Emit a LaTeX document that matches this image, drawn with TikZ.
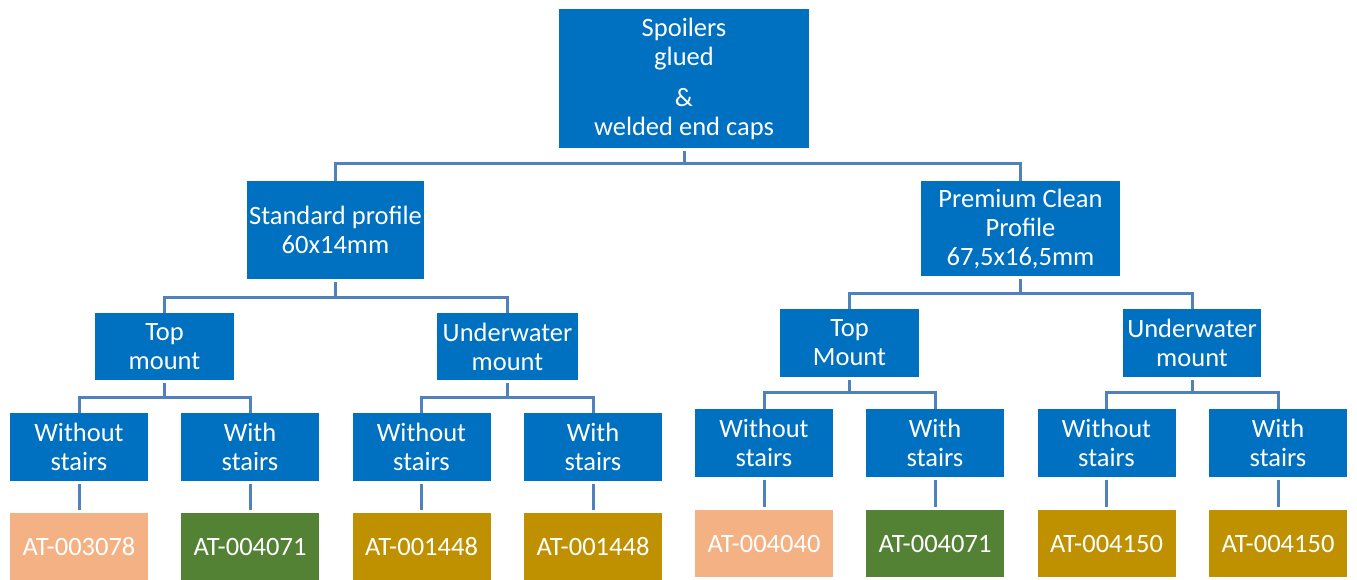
\documentclass[tikz,border=0pt]{standalone}
\usepackage{fontspec}
\setmainfont{Carlito}
\usepackage{tikz}
\usetikzlibrary{positioning}

\definecolor{boxblue}{HTML}{0070C0}
\definecolor{linkblue}{HTML}{4F81BD}
\definecolor{salmon}{HTML}{F4B183}
\definecolor{leafgreen}{HTML}{548235}
\definecolor{gold}{HTML}{BF9000}

\begin{document}
\begin{tikzpicture}[x=1pt,y=-1pt,
		blk/.style={fill=boxblue, text=white, align=center, inner sep=0pt,
			font=\fontsize{26.5}{29}\selectfont},
		prod/.style={blk, minimum width=138pt, minimum height=67pt},
		link/.style={draw=linkblue, line width=3pt}]
		\useasboundingbox (0,0) rectangle (1357,580);
		
		\node[blk, minimum width=250pt, minimum height=139pt] (root) at (684,78.5)
		{Spoilers\\glued\\[12pt]\&\\welded end caps};
		
		\node[blk, minimum width=177pt, minimum height=98pt] (std) at (335.5,230) {Standard profile\\60x14mm};
		\node[blk, minimum width=199pt, minimum height=95pt] (prem) at (1020.5,228.5) {Premium Clean\\Profile\\67,5x16,5mm};
		
		% standard profile branch
		\node[blk, minimum width=139pt, minimum height=67pt] (stop) at (164.5,346.5) {Top\\mount};
		\node[blk, minimum width=141pt, minimum height=67pt] (sund) at (507.5,346.5) {Underwater\\mount};
		\node[blk, minimum width=138pt, minimum height=68pt] (s1) at (79,447) {Without\\stairs};
		\node[blk, minimum width=138pt, minimum height=68pt] (s2) at (250,447) {With\\stairs};
		\node[blk, minimum width=138pt, minimum height=68pt] (s3) at (421.5,447) {Without\\stairs};
		\node[blk, minimum width=138pt, minimum height=68pt] (s4) at (593,447) {With\\stairs};
		\node[prod, fill=salmon] (a1) at (79,546.5) {AT-003078};
		\node[prod, fill=leafgreen] (a2) at (250,546.5) {AT-004071};
		\node[prod, fill=gold] (a3) at (421.5,546.5) {AT-001448};
		\node[prod, fill=gold] (a4) at (593,546.5) {AT-001448};
		
		% premium clean branch
		\node[blk, minimum width=139pt, minimum height=68pt] (ptop) at (849.5,343) {Top\\Mount};
		\node[blk, minimum width=138pt, minimum height=68pt] (pund) at (1192,343) {Underwater\\mount};
		\node[blk, minimum width=138pt, minimum height=68pt] (p1) at (764,443) {Without\\stairs};
		\node[blk, minimum width=138pt, minimum height=68pt] (p2) at (935,443) {With\\stairs};
		\node[blk, minimum width=138pt, minimum height=68pt] (p3) at (1106.5,443) {Without\\stairs};
		\node[blk, minimum width=138pt, minimum height=68pt] (p4) at (1278,443) {With\\stairs};
		\node[prod, fill=salmon] (b1) at (764,543.5) {AT-004040};
		\node[prod, fill=leafgreen] (b2) at (935,543.5) {AT-004071};
		\node[prod, fill=gold] (b3) at (1106.5,543.5) {AT-004150};
		\node[prod, fill=gold] (b4) at (1278,543.5) {AT-004150};
		
		% elbow connectors, leaving a small gap under the parent
		\draw[link] ([yshift=-3pt]root.south) -- ++(0,12) -| (std.north)
		([yshift=-3pt]root.south) -- ++(0,12) -| (prem.north);
		\draw[link] ([yshift=-3pt]std.south) -- ++(0,15) -| (stop.north)
		([yshift=-3pt]std.south) -- ++(0,15) -| (sund.north);
		\draw[link] ([yshift=-3pt]prem.south) -- ++(0,14) -| (ptop.north)
		([yshift=-3pt]prem.south) -- ++(0,14) -| (pund.north);
		\draw[link] ([yshift=-3pt]stop.south) -- ++(0,14) -| (s1.north)
		([yshift=-3pt]stop.south) -- ++(0,14) -| (s2.north)
		([yshift=-3pt]sund.south) -- ++(0,14) -| (s3.north)
		([yshift=-3pt]sund.south) -- ++(0,14) -| (s4.north);
		\draw[link] ([yshift=-3pt]ptop.south) -- ++(0,12) -| (p1.north)
		([yshift=-3pt]ptop.south) -- ++(0,12) -| (p2.north)
		([yshift=-3pt]pund.south) -- ++(0,12) -| (p3.north)
		([yshift=-3pt]pund.south) -- ++(0,12) -| (p4.north);
		
		% leaf to part number, with a small gap at each end
		\foreach \a/\b in {s1/a1,s2/a2,s3/a3,s4/a4,p1/b1,p2/b2,p3/b3,p4/b4}
		\draw[link] ([yshift=-3pt]\a.south) -- ([yshift=3pt]\b.north);
	\end{tikzpicture}
\end{document}
